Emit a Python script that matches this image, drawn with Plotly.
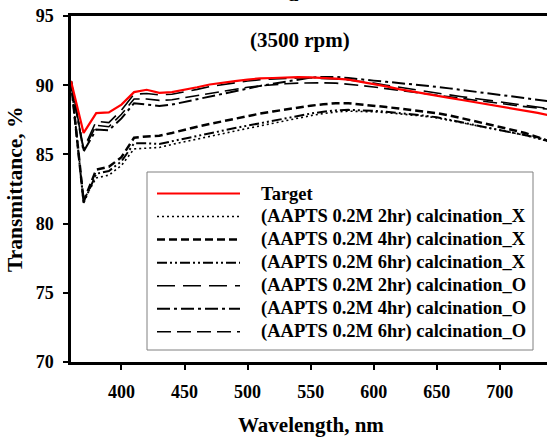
import plotly.graph_objects as go

wavelength = list(range(360, 741, 10))

target = [90.3, 86.55, 87.98, 88.03, 88.6, 89.5, 89.67, 89.45, 89.5, 89.65,
          89.85, 90.05, 90.2, 90.3, 90.4, 90.5, 90.52, 90.56, 90.58, 90.56,
          90.53, 90.48, 90.4, 90.25, 90.1, 89.92, 89.72, 89.55, 89.38, 89.22,
          89.08, 88.93, 88.78, 88.62, 88.45, 88.3, 88.15, 88.0, 87.8]
aapts_2hr_x = [90.3, 81.7, 83.3, 83.5, 84.2, 85.4, 85.45, 85.5, 85.72, 85.92,
               86.12, 86.32, 86.5, 86.68, 86.88, 87.06, 87.25, 87.43, 87.62, 87.8,
               87.95, 88.07, 88.12, 88.12, 88.08, 88.02, 87.95, 87.87, 87.76, 87.64,
               87.47, 87.3, 87.12, 86.93, 86.75, 86.57, 86.38, 86.16, 85.9]
aapts_4hr_x = [90.3, 81.6, 83.9, 84.1, 84.8, 86.2, 86.3, 86.35, 86.55, 86.8,
               87.0, 87.2, 87.4, 87.6, 87.78, 87.95, 88.1, 88.25, 88.4, 88.52,
               88.62, 88.7, 88.7, 88.62, 88.52, 88.42, 88.32, 88.22, 88.12, 87.98,
               87.82, 87.62, 87.42, 87.2, 86.98, 86.76, 86.55, 86.25, 85.9]
aapts_6hr_x = [90.3, 81.5, 83.6, 83.8, 84.5, 85.8, 85.8, 85.75, 85.95, 86.15,
               86.35, 86.55, 86.72, 86.9, 87.08, 87.25, 87.45, 87.62, 87.8, 87.95,
               88.08, 88.18, 88.22, 88.2, 88.15, 88.08, 88.0, 87.92, 87.8, 87.68,
               87.5, 87.32, 87.14, 86.95, 86.77, 86.6, 86.42, 86.2, 85.95]
aapts_2hr_o = [90.3, 85.4, 87.4, 87.3, 88.2, 89.35, 89.4, 89.3, 89.35, 89.5,
               89.7, 89.9, 90.05, 90.2, 90.3, 90.4, 90.45, 90.5, 90.52, 90.52,
               90.5, 90.45, 90.38, 90.28, 90.15, 90.0, 89.85, 89.7, 89.57, 89.45,
               89.3, 89.17, 89.05, 88.92, 88.8, 88.7, 88.57, 88.45, 88.3]
aapts_4hr_o = [90.3, 85.2, 86.8, 86.75, 87.6, 88.7, 88.6, 88.5, 88.6, 88.8,
               89.0, 89.2, 89.4, 89.6, 89.8, 89.95, 90.1, 90.25, 90.4, 90.55,
               90.6, 90.6, 90.52, 90.4, 90.33, 90.25, 90.17, 90.08, 90.0, 89.88,
               89.77, 89.65, 89.53, 89.42, 89.3, 89.18, 89.06, 88.95, 88.83]
aapts_6hr_o = [90.3, 85.3, 87.1, 87.0, 87.9, 89.0, 89.0, 88.9, 88.95, 89.1,
               89.3, 89.45, 89.6, 89.75, 89.85, 89.95, 90.05, 90.1, 90.15, 90.17,
               90.17, 90.15, 90.08, 89.98, 89.87, 89.75, 89.62, 89.5, 89.37, 89.25,
               89.12, 89.0, 88.88, 88.76, 88.65, 88.55, 88.45, 88.35, 88.25]

series_names = ["Target",
                "(AAPTS 0.2M 2hr) calcination_X",
                "(AAPTS 0.2M 4hr) calcination_X",
                "(AAPTS 0.2M 6hr) calcination_X",
                "(AAPTS 0.2M 2hr) calcination_O",
                "(AAPTS 0.2M 4hr) calcination_O",
                "(AAPTS 0.2M 6hr) calcination_O"]
series_values = [target, aapts_2hr_x, aapts_4hr_x, aapts_6hr_x,
                 aapts_2hr_o, aapts_4hr_o, aapts_6hr_o]

x_ticks = [400, 450, 500, 550, 600, 650, 700]
y_ticks = [70, 75, 80, 85, 90, 95]

styles = [
    dict(color="#ff0000", width=2.2, dash="solid"),
    dict(color="black", width=1.6, dash="2px,3px"),
    dict(color="black", width=2.5, dash="8px,4px"),
    dict(color="black", width=2, dash="10px,3px,2px,3px,2px,3px"),
    dict(color="black", width=1.6, dash="18px,8px"),
    dict(color="black", width=2, dash="13px,4px,3px,4px"),
    dict(color="black", width=1.6, dash="14px,6px"),
]

FONT = "Liberation Serif, Times New Roman, serif"
W, H = 547, 437
ML, MR, MT, MB = 71, 0, 16, 75
PW, PH = W - ML - MR, H - MT - MB


def px_to_paper_x(px):
    return (px - ML) / PW


def px_to_paper_y(py):
    return (H - MB - py) / PH


fig = go.Figure()
order = [1, 2, 3, 4, 5, 6, 0]
for i in order:
    fig.add_trace(go.Scatter(x=wavelength, y=series_values[i], mode="lines",
                             name=series_names[i], line=styles[i],
                             showlegend=False))

# legend box (drawn manually to match the original spacing)
shapes = [dict(type="rect", xref="paper", yref="paper",
               x0=px_to_paper_x(147), x1=px_to_paper_x(533),
               y0=px_to_paper_y(350), y1=px_to_paper_y(172),
               line=dict(color="#808080", width=1), fillcolor="white", layer="above")]
annotations = []
row_y0, row_step = 193.5, 23.05
for k, name in enumerate(series_names):
    yy = px_to_paper_y(row_y0 + k * row_step)
    shapes.append(dict(type="line", xref="paper", yref="paper",
                       x0=px_to_paper_x(157), x1=px_to_paper_x(240), y0=yy, y1=yy,
                       line=styles[k], layer="above"))
    annotations.append(dict(text=name, x=px_to_paper_x(259), y=yy, xref="paper", yref="paper",
                            xanchor="left", yanchor="middle", showarrow=False,
                            font=dict(family=FONT, size=18.5, weight="bold", color="black")))

annotations += [
    dict(text="(3500 rpm)", x=px_to_paper_x(300), y=px_to_paper_y(40), xref="paper", yref="paper",
         xanchor="center", yanchor="middle", showarrow=False,
         font=dict(family=FONT, size=21, weight="bold")),
    dict(text="a", x=px_to_paper_x(293), y=1, xref="paper", yref="paper",
         xanchor="center", yanchor="bottom",
         yshift=8, showarrow=False, font=dict(family=FONT, size=21, weight="bold")),
    dict(text="Wavelength, nm", x=px_to_paper_x(311), y=0, xref="paper", yref="paper",
         xanchor="center", yanchor="middle", yshift=-63, showarrow=False,
         font=dict(family=FONT, size=21, weight="bold")),
    dict(text="Transmittance, %", x=0, y=px_to_paper_y(189), xref="paper", yref="paper",
         xanchor="center", yanchor="middle", xshift=15 - ML, textangle=-90, showarrow=False,
         font=dict(family=FONT, size=21.5, weight="bold")),
]

fig.update_layout(
    width=W, height=H,
    margin=dict(l=ML, r=MR, t=MT, b=MB, autoexpand=False),
    paper_bgcolor="white", plot_bgcolor="white",
    font=dict(family=FONT, color="black", size=18, weight="bold"),
    showlegend=False,
    shapes=shapes,
    annotations=annotations,
)
fig.update_xaxes(range=[360, 737.4], tickvals=x_ticks, ticks="outside", ticklen=5,
                 tickwidth=2, tickcolor="black", showline=True, linecolor="black",
                 linewidth=2.5, mirror=True, showgrid=False, zeroline=False,
                 automargin=False, ticklabelstandoff=7,
                 tickfont=dict(family=FONT, size=18, weight="bold"))
fig.update_yaxes(range=[70, 95], tickvals=y_ticks, ticks="outside", ticklen=5,
                 tickwidth=2, tickcolor="black", showline=True, linecolor="black",
                 linewidth=2.5, mirror=False, showgrid=False, zeroline=False,
                 automargin=False, ticklabelstandoff=6,
                 tickfont=dict(family=FONT, size=18, weight="bold"))

# remove the browser's default page margin so the figure sits at the window's corner
fig.write_html("out.html", config={"displayModeBar": False},
               post_script="document.body.style.margin='0';")
